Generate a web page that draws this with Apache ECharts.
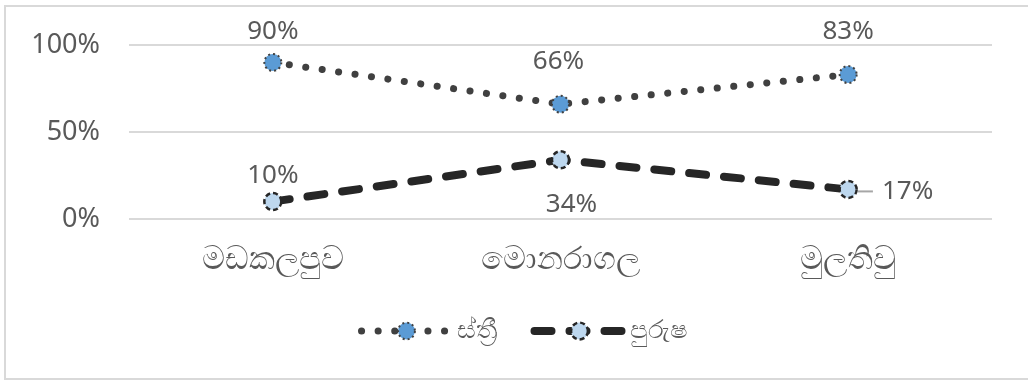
<!DOCTYPE html>
<html>
<head>
<meta charset="utf-8">
<script src="https://cdn.jsdelivr.net/npm/echarts@6/dist/echarts.min.js"></script>
<style>
  html, body { margin: 0; padding: 0; background: #fff; }
  #chart { width: 1028px; height: 380px; }
</style>
</head>
<body>
<div id="chart"></div>
<script>
// Districts on the category axis
const categories = ['මඩකලපුව', 'මොනරාගල', 'මුලතිවු'];
// Share of each group per district (%)
const female = [90, 66, 83];
const male = [10, 34, 17];
const seriesNames = ['ස්ත්‍රී', 'පුරුෂ'];
const yTicks = [0, 50, 100];

const FONT = '"Noto Sans", "Open Sans", sans-serif';
const TEXT = '#595959';

const femaleLine = { color: '#404040', width: 7, type: [0.1, 16.5], cap: 'round' };
const maleLine = { color: '#262626', width: 8, type: [17, 18], cap: 'round' };
const femaleItem = { color: '#5b9bd5', borderColor: '#404040', borderWidth: 2, borderType: [2, 3] };
const maleItem = { color: '#bdd7ee', borderColor: '#262626', borderWidth: 2.5, borderType: [5, 3] };

// hand-placed label offsets per point
const femaleLabel = [
  { position: 'top', offset: [0, -3] },
  { position: 'top', offset: [-2, -15] },
  { position: 'top', offset: [0, -15] }
];
const maleLabel = [
  { position: 'top', offset: [0, 2] },
  { position: 'bottom', offset: [11, 17] },
  { position: 'right', distance: 0, offset: [0, 2], formatter: p => '{l|}{t|' + p.value + '%}' }
];

const labelBase = {
  show: true, color: TEXT, fontSize: 26, lineHeight: 26, fontFamily: FONT,
  formatter: p => p.value + '%',
  rich: {
    l: { width: 15, height: 2, backgroundColor: '#a6a6a6' },
    t: { color: TEXT, fontSize: 26, lineHeight: 26, fontFamily: FONT, padding: [0, 0, 0, 9] }
  }
};

const chart = echarts.init(document.getElementById('chart'), null, { renderer: 'canvas' });

chart.setOption({
  animation: false,
  backgroundColor: '#fff',
  graphic: [{
    type: 'rect',
    shape: { x: 5, y: 6, width: 1040, height: 373 },
    style: { fill: 'none', stroke: '#d9d9d9', lineWidth: 2 },
    silent: true,
    z: -10
  }],
  grid: { left: 129, right: 36, top: 45, bottom: 161, containLabel: false },
  xAxis: {
    type: 'category',
    data: categories,
    boundaryGap: true,
    axisLine: { show: false },
    axisTick: { show: false },
    axisLabel: { color: TEXT, fontSize: 32, fontFamily: FONT, margin: 25 }
  },
  yAxis: {
    type: 'value',
    min: yTicks[0],
    max: yTicks[yTicks.length - 1],
    interval: 50,
    axisLine: { show: false },
    axisTick: { show: false },
    splitLine: { lineStyle: { color: '#d9d9d9', width: 2 } },
    axisLabel: {
      color: TEXT, fontSize: 27, fontFamily: FONT, margin: 29,
      formatter: v => v + '%'
    }
  },
  legend: {
    top: 313,
    left: 353,
    itemWidth: 90,
    itemHeight: 21,
    itemGap: 34,
    textStyle: { color: TEXT, fontSize: 26, fontFamily: FONT },
    data: [
      { name: seriesNames[0], lineStyle: femaleLine, itemStyle: femaleItem },
      { name: seriesNames[1], lineStyle: maleLine, itemStyle: maleItem }
    ]
  },
  series: [
    {
      name: seriesNames[0],
      type: 'line',
      data: female.map((v, i) => ({ value: v, label: femaleLabel[i] })),
      symbol: 'circle',
      symbolSize: 17,
      lineStyle: femaleLine,
      itemStyle: femaleItem,
      label: labelBase
    },
    {
      name: seriesNames[1],
      type: 'line',
      data: male.map((v, i) => ({ value: v, label: maleLabel[i] })),
      symbol: 'circle',
      symbolSize: 17,
      lineStyle: maleLine,
      itemStyle: maleItem,
      label: labelBase
    }
  ]
});
</script>
</body>
</html>
